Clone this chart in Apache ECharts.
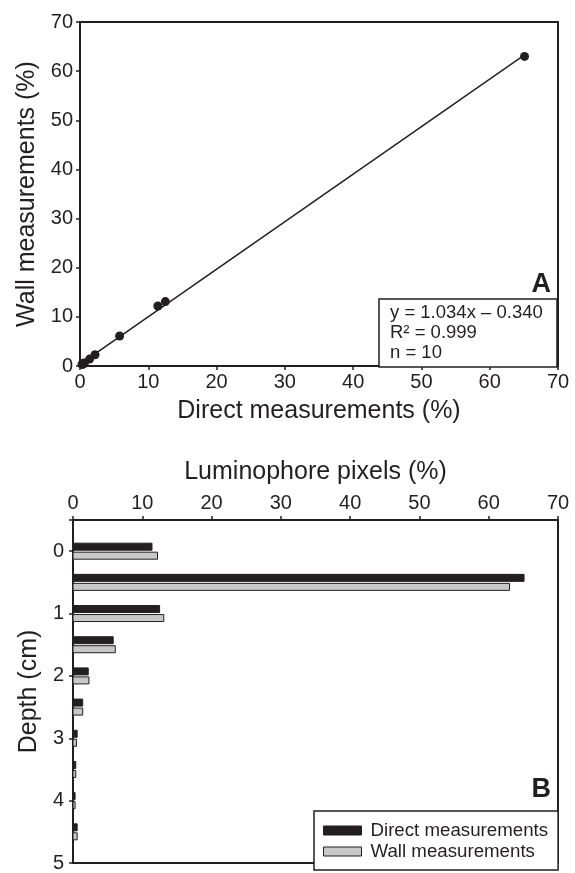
<!DOCTYPE html>
<html>
<head>
<meta charset="utf-8">
<script src="https://cdn.jsdelivr.net/npm/echarts@6/dist/echarts.min.js"></script>
<style>
  html, body { margin: 0; padding: 0; background: #fff; }
  #chart { width: 575px; height: 873px; }
</style>
</head>
<body>
<div id="chart"></div>
<script>
// depth of each slice (cm) and luminophore pixels (%)
var depths = [0, 0.5, 1, 1.5, 2, 2.5, 3, 3.5, 4, 4.5];
var directValues = [11.4, 65.1, 12.5, 5.8, 2.2, 1.4, 0.6, 0.4, 0.3, 0.6];
var wallValues = [12.2, 63.0, 13.1, 6.1, 2.3, 1.4, 0.5, 0.4, 0.3, 0.6];

// regression from panel A (direct = slope * wall + intercept)
var slope = 1.034;
var intercept = -0.340;
var fitText = ['y = 1.034x \u2013 0.340', 'R\u00b2 = 0.999', 'n = 10'];

var ink = '#231f20';
var font = "'Liberation Sans', Arial, Helvetica, sans-serif";

var chart = echarts.init(document.getElementById('chart'));

var scatterData = directValues.map(function (d, i) { return [d, wallValues[i]]; });
var xMin = Math.min.apply(null, directValues);
var xMax = Math.max.apply(null, directValues);
var fitLine = [[xMin, (xMin - intercept) / slope], [xMax, (xMax - intercept) / slope]];

function axisBase(extra) {
  var a = {
    axisLine: { show: true, onZero: false, lineStyle: { color: ink, width: 2 } },
    axisTick: { show: true, inside: false, length: 4, lineStyle: { color: ink, width: 1.5 } },
    axisLabel: { color: ink, fontSize: 20, fontFamily: font },
    splitLine: { show: false },
    nameTextStyle: { color: ink, fontSize: 25, fontFamily: font },
    nameLocation: 'middle'
  };
  return Object.assign(a, extra);
}

function barItem(offset, fill) {
  return function (params, api) {
    var v = api.value(0);
    var d = api.value(1);
    var p0 = api.coord([0, d]);
    var p1 = api.coord([v, d]);
    return {
      type: 'rect',
      shape: { x: p0[0], y: p0[1] + offset - 3.5, width: p1[0] - p0[0], height: 7 },
      style: { fill: fill, stroke: ink, lineWidth: 1 }
    };
  };
}

var option = {
  animation: false,
  backgroundColor: '#fff',
  textStyle: { fontFamily: font, color: ink },
  title: [
    {
      text: fitText.join('\n'),
      left: 379, top: 299,
      padding: [4, 15, 4, 11],
      borderColor: ink, borderWidth: 1.5,
      backgroundColor: '#fff',
      textStyle: { color: ink, fontSize: 18.5, lineHeight: 20, fontWeight: 'normal', fontFamily: font }
    },
    {
      text: 'A', right: 24, top: 271, padding: 0,
      textStyle: { color: ink, fontSize: 27, fontWeight: 'bold', fontFamily: font }
    },
    {
      text: 'B', right: 24, top: 776, padding: 0,
      textStyle: { color: ink, fontSize: 27, fontWeight: 'bold', fontFamily: font }
    }
  ],
  legend: {
    orient: 'vertical',
    left: 314, top: 811,
    padding: [10, 10, 9, 9],
    itemGap: 2,
    itemWidth: 38, itemHeight: 9,
    borderColor: ink, borderWidth: 1.5,
    backgroundColor: '#fff',
    textStyle: { color: ink, fontSize: 18.7, fontFamily: font, padding: [0, 0, 0, 4] },
    data: [
      { name: 'Direct measurements', icon: 'rect', itemStyle: { color: ink, borderColor: ink, borderWidth: 1 } },
      { name: 'Wall measurements', icon: 'rect', itemStyle: { color: '#c8c8c8', borderColor: ink, borderWidth: 1 } }
    ]
  },
  grid: [
    { left: 80, top: 22, width: 478, height: 344, show: true, borderColor: ink, borderWidth: 2, backgroundColor: 'transparent' },
    { left: 73, top: 520, width: 485, height: 350, show: true, borderColor: ink, borderWidth: 2, backgroundColor: 'transparent' }
  ],
  xAxis: [
    axisBase({
      gridIndex: 0, type: 'value', min: 0, max: 70, interval: 10,
      name: 'Direct measurements (%)', nameGap: 33,
      axisLabel: { color: ink, fontSize: 20, fontFamily: font, margin: 6 }
    }),
    axisBase({
      gridIndex: 1, type: 'value', position: 'top', min: 0, max: 70, interval: 10,
      name: 'Luminophore pixels (%)', nameGap: 35,
      axisLabel: { color: ink, fontSize: 20, fontFamily: font, margin: 7 }
    })
  ],
  yAxis: [
    axisBase({
      gridIndex: 0, type: 'value', min: 0, max: 70, interval: 10,
      name: 'Wall measurements (%)', nameGap: 32,
      axisLabel: { color: ink, fontSize: 20, fontFamily: font, margin: 7 }
    }),
    axisBase({
      gridIndex: 1, type: 'value', inverse: true, min: -0.5, max: 5, splitNumber: 5,
      name: 'Depth (cm)', nameGap: 27,
      axisLabel: {
        color: ink, fontSize: 20, fontFamily: font, margin: 9,
        formatter: function (v) { return Number.isInteger(v) ? String(Math.abs(v)) : ''; }
      }
    })
  ],
  series: [
    {
      type: 'line', xAxisIndex: 0, yAxisIndex: 0,
      data: fitLine, symbol: 'none',
      lineStyle: { color: ink, width: 1.5 }
    },
    {
      type: 'scatter', xAxisIndex: 0, yAxisIndex: 0,
      data: scatterData, symbol: 'circle', symbolSize: 9,
      itemStyle: { color: ink, opacity: 1 }
    },
    {
      name: 'Direct measurements', type: 'custom', xAxisIndex: 1, yAxisIndex: 1,
      encode: { x: 0, y: 1 },
      data: depths.map(function (d, i) { return [directValues[i], d]; }),
      renderItem: barItem(-4.5, ink),
      itemStyle: { color: ink }
    },
    {
      name: 'Wall measurements', type: 'custom', xAxisIndex: 1, yAxisIndex: 1,
      encode: { x: 0, y: 1 },
      data: depths.map(function (d, i) { return [wallValues[i], d]; }),
      renderItem: barItem(4.5, '#c8c8c8'),
      itemStyle: { color: '#c8c8c8' }
    }
  ]
};

chart.setOption(option);
</script>
</body>
</html>
